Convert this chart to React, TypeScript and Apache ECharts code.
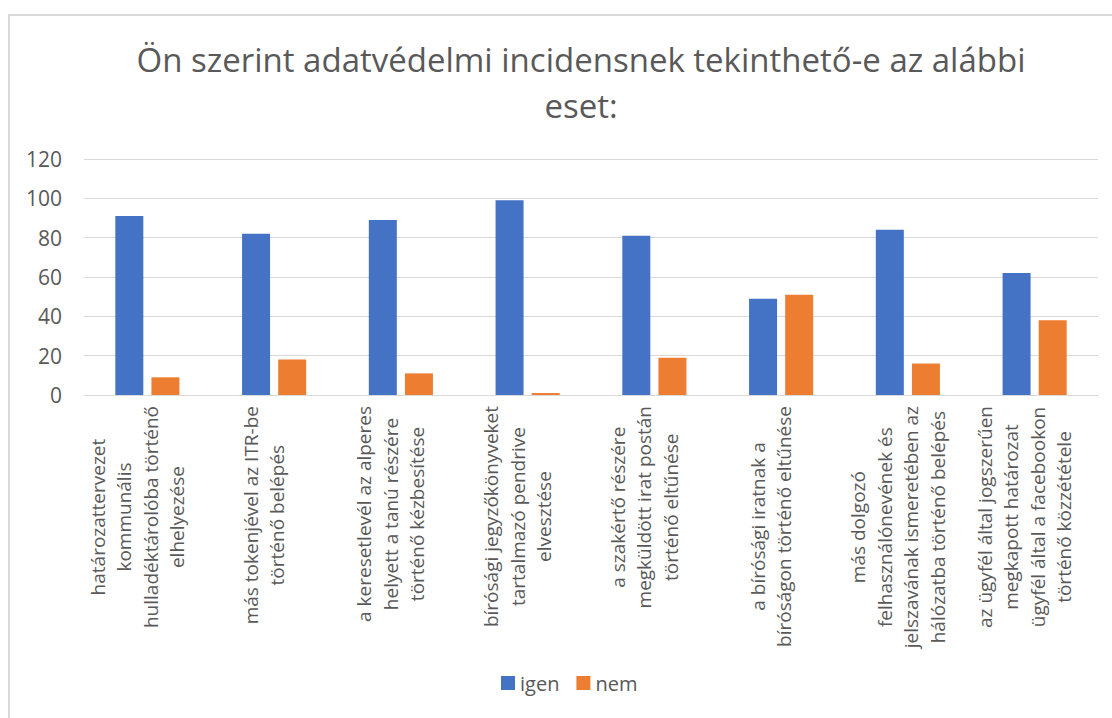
import React, { useEffect, useRef } from "react";
import * as echarts from "echarts";

const titleText = "Ön szerint adatvédelmi incidensnek tekinthető-e az alábbi\neset:";

const categories = [
  "határozattervezet\nkommunális\nhulladéktárolóba történő\nelhelyezése",
  "más tokenjével az ITR-be\ntörténő belépés",
  "a keresetlevél az alperes\nhelyett a tanú részére\ntörténő kézbesítése",
  "bírósági jegyzőkönyveket\ntartalmazó pendrive\nelvesztése",
  "a szakértő részére\nmegküldött irat postán\ntörténő eltűnése",
  "a bírósági iratnak a\nbíróságon történő eltűnése",
  "más dolgozó\nfelhasználónevének és\njelszavának ismeretében az\nhálózatba történő belépés",
  "az ügyfél által jogszerűen\nmegkapott határozat\nügyfél által a facebookon\ntörténő közzététele",
];

const igenValues = [91, 82, 89, 99, 81, 49, 84, 62];
const nemValues = [9, 18, 11, 1, 19, 51, 16, 38];

const seriesNames = ["igen", "nem"];
const yTicks = { min: 0, max: 120, interval: 20 };

const FONT = "'Open Sans', 'Noto Sans', sans-serif";
const TEXT = "#595959";

export default function App() {
  const ref = useRef<HTMLDivElement>(null);
  useEffect(() => {
    if (!ref.current) return;
    const chart = echarts.init(ref.current, null, { renderer: "svg" });
    chart.setOption({
      animation: false,
      textStyle: { fontFamily: FONT },
      title: {
        text: titleText,
        left: 566,
        top: 15,
        textAlign: "center",
        textStyle: {
          fontFamily: FONT,
          fontSize: 33,
          fontWeight: "normal",
          color: TEXT,
          lineHeight: 46,
        },
      },
      legend: {
        data: seriesNames,
        left: 486,
        top: 652,
        icon: "rect",
        itemWidth: 14,
        itemHeight: 14,
        itemGap: 17,
        textStyle: { fontFamily: FONT, fontSize: 20, color: TEXT },
      },
      grid: { left: 74, right: 62, top: 143, bottom: 381, containLabel: false },
      xAxis: {
        type: "category",
        data: categories,
        axisLine: { lineStyle: { color: "#d9d9d9", width: 1 } },
        axisTick: { show: false },
        axisLabel: {
          interval: 0,
          rotate: 90,
          margin: 11,
          padding: [0, 0, 20, 0],
          formatter: (v: string) =>
            v.split("\n").map((l) => `{c|${l}}`).join("\n"),
          rich: {
            c: {
              align: "center",
              fontFamily: FONT,
              fontSize: 19,
              lineHeight: 26.5,
              color: TEXT,
            },
          },
        },
      },
      yAxis: {
        type: "value",
        min: yTicks.min,
        max: yTicks.max,
        interval: yTicks.interval,
        axisLine: { show: false },
        axisTick: { show: false },
        splitLine: { lineStyle: { color: "#d9d9d9", width: 1 } },
        axisLabel: { fontFamily: FONT, fontSize: 21, color: TEXT, margin: 22 },
      },
      series: [
        {
          name: seriesNames[0],
          type: "bar",
          data: igenValues,
          barWidth: 28,
          barGap: "29%",
          itemStyle: { color: "#4472C4" },
        },
        {
          name: seriesNames[1],
          type: "bar",
          data: nemValues,
          barWidth: 28,
          itemStyle: { color: "#ED7D31" },
        },
      ],
    });
    return () => chart.dispose();
  }, []);

  return (
    <div
      style={{
        position: "fixed",
        left: 0,
        top: 0,
        width: 1112,
        height: 718,
        overflow: "hidden",
        background: "#fff",
      }}
    >
      <div
        style={{
          position: "absolute",
          left: 8,
          top: 14,
          width: 1150,
          height: 760,
          border: "2px solid #d9d9d9",
        }}
      >
        <div ref={ref} style={{ width: 1150, height: 760 }} />
      </div>
    </div>
  );
}
